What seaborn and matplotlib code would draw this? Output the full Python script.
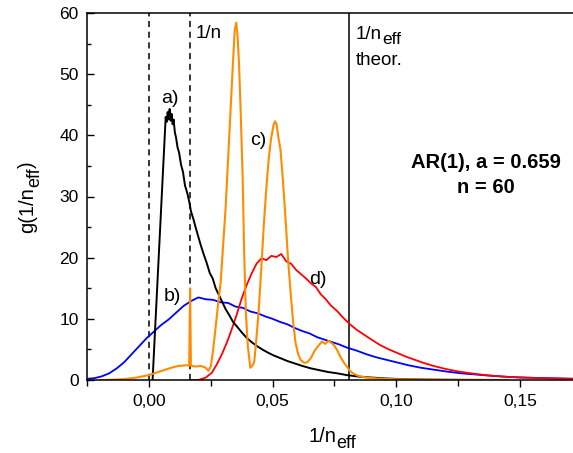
import matplotlib
matplotlib.use("Agg")
import matplotlib.pyplot as plt
import seaborn as sns
import pandas as pd

# ---- data ----
x_a = [0.0015, 0.0068, 0.0072, 0.0076, 0.0080, 0.0084, 0.0088, 0.0092, 0.0096, 0.0100, 0.0105, 0.0110,
       0.0116, 0.0122, 0.0130, 0.0138, 0.0146, 0.0155, 0.0163, 0.0170, 0.0180, 0.0190, 0.0200, 0.0210,
       0.0222, 0.0234, 0.0246, 0.0258, 0.0270, 0.0283, 0.0296, 0.0310, 0.0325, 0.0340, 0.0357, 0.0375,
       0.0395, 0.0415, 0.0435, 0.0458, 0.0480, 0.0505, 0.0530, 0.0560, 0.0590, 0.0620, 0.0655, 0.0690,
       0.0725, 0.0760, 0.0800, 0.0850, 0.0900, 0.0960, 0.1020, 0.1100, 0.1200, 0.1300, 0.1450]
y_a = [0.0, 43.0, 42.2, 43.8, 42.6, 44.3, 42.4, 43.5, 41.8, 42.6, 40.5, 39.6,
       38.0, 37.2, 35.2, 34.0, 31.8, 30.6, 29.2, 27.6, 26.3, 24.8, 23.4, 22.0,
       20.5, 19.1, 17.5, 16.6, 15.0, 13.9, 12.8, 11.6, 10.6, 9.5, 8.7, 7.8,
       6.9, 6.2, 5.6, 5.0, 4.5, 4.0, 3.6, 3.1, 2.7, 2.3, 1.9, 1.6,
       1.3, 1.1, 0.8, 0.55, 0.4, 0.25, 0.15, 0.08, 0.04, 0.02, 0.0]

x_b = [-0.0250, -0.0220, -0.0190, -0.0160, -0.0130, -0.0100, -0.0070, -0.0040, -0.0010, 0.0020, 0.0050,
       0.0080, 0.0110, 0.0140, 0.0170, 0.0200, 0.0230, 0.0260, 0.0290, 0.0320, 0.0350, 0.0380, 0.0410,
       0.0440, 0.0470, 0.0500, 0.0530, 0.0560, 0.0590, 0.0620, 0.0650, 0.0680, 0.0710, 0.0740, 0.0770,
       0.0800, 0.0840, 0.0880, 0.0920, 0.0960, 0.1000, 0.1050, 0.1100, 0.1150, 0.1200, 0.1260, 0.1320,
       0.1380, 0.1450, 0.1520, 0.1600, 0.1715]
y_b = [0.2, 0.3, 0.6, 1.1, 1.9, 2.9, 4.2, 5.5, 6.8, 7.9, 9.0,
       9.9, 11.0, 12.1, 12.9, 13.5, 13.2, 13.1, 12.7, 12.6, 12.0, 11.8, 11.2,
       10.9, 10.4, 10.0, 9.5, 9.1, 8.5, 8.0, 7.6, 7.0, 6.6, 6.2, 5.8,
       5.3, 4.8, 4.2, 3.7, 3.3, 2.9, 2.4, 2.0, 1.7, 1.4, 1.1, 0.9,
       0.7, 0.5, 0.4, 0.3, 0.2]

x_c = [-0.0200, -0.0150, -0.0100, -0.0050, 0.0000, 0.0030, 0.0060, 0.0090, 0.0120, 0.0150, 0.0163,
       0.01667, 0.0170, 0.0190, 0.0210, 0.0230, 0.0240, 0.0250, 0.0260, 0.0270, 0.0280, 0.0290, 0.0300,
       0.0310, 0.0320, 0.0330, 0.0340, 0.0347, 0.0353, 0.0358, 0.0364, 0.0371, 0.0379, 0.0385, 0.0392,
       0.0400, 0.0410, 0.0418, 0.0426, 0.0435, 0.0444, 0.0454, 0.0464, 0.0474, 0.0484, 0.0494, 0.0504,
       0.0510, 0.0516, 0.0524, 0.0532, 0.0542, 0.0552, 0.0562, 0.0573, 0.0583, 0.0593, 0.0603, 0.0613,
       0.0628, 0.0640, 0.0655, 0.0670, 0.0685, 0.0700, 0.0712, 0.0726, 0.0740, 0.0750, 0.0762, 0.0774,
       0.0787, 0.0800, 0.0812, 0.0825, 0.0845, 0.0870, 0.0920, 0.1000, 0.1100, 0.1250, 0.1450]
y_c = [0.0, 0.05, 0.15, 0.4, 0.8, 1.2, 1.6, 2.0, 2.3, 2.4, 2.4,
       15.0, 2.3, 2.2, 2.3, 2.0, 1.5, 2.2, 5.0, 8.7, 12.5, 15.9, 22.0,
       28.0, 36.0, 44.0, 52.0, 57.2, 58.4, 56.5, 52.0, 44.0, 33.2, 21.0, 11.0,
       5.5, 2.0, 2.3, 3.0, 7.0, 11.4, 18.0, 25.0, 31.0, 36.0, 39.5, 41.7,
       42.3, 41.8, 39.5, 37.6, 32.5, 26.6, 20.0, 14.2, 9.5, 6.0, 4.3, 3.3,
       2.8, 2.9, 3.6, 4.8, 5.6, 6.3, 5.9, 6.4, 6.0, 5.6, 4.8, 3.8,
       2.9, 2.2, 1.5, 1.1, 0.7, 0.45, 0.25, 0.12, 0.06, 0.02, 0.0]

x_d = [0.0167, 0.0200, 0.0230, 0.0255, 0.0275, 0.0295, 0.0315, 0.0335, 0.0355, 0.0375, 0.0395,
       0.0415, 0.0435, 0.0455, 0.0475, 0.0495, 0.0515, 0.0535, 0.0555, 0.0575, 0.0595, 0.0615, 0.0635,
       0.0655, 0.0675, 0.0695, 0.0715, 0.0735, 0.0760, 0.0785, 0.0810, 0.0840, 0.0870, 0.0900, 0.0935,
       0.0970, 0.1005, 0.1040, 0.1075, 0.1110, 0.1150, 0.1200, 0.1250, 0.1300, 0.1360, 0.1420, 0.1500,
       0.1600, 0.1715]
y_d = [0.0, 0.0, 0.4, 1.2, 2.6, 4.2, 6.1, 8.3, 10.7, 13.3, 15.5,
       17.4, 19.0, 19.9, 19.6, 20.3, 20.1, 20.6, 19.4, 19.0, 18.0, 17.3, 16.6,
       15.8, 15.2, 14.0, 13.2, 12.2, 11.3, 10.2, 9.2, 8.2, 7.4, 6.6, 5.7,
       5.0, 4.4, 3.8, 3.3, 2.8, 2.3, 1.8, 1.4, 1.1, 0.8, 0.6, 0.4,
       0.3, 0.2]

x_dashed = [0.0, 1 / 60]
x_theor = 0.081
x_ticks = [0.0, 0.05, 0.10, 0.15]
x_ticklabels = ["0,00", "0,05", "0,10", "0,15"]
y_ticks = [0, 10, 20, 30, 40, 50, 60]

W, H = 573, 453

# ---- style ----
sns.set_style("ticks")
plt.rcParams["font.family"] = ["Liberation Sans", "DejaVu Sans"]
plt.rcParams["text.color"] = "black"
plt.rcParams["axes.labelcolor"] = "black"
plt.rcParams["xtick.color"] = "black"
plt.rcParams["ytick.color"] = "black"

fig = plt.figure(figsize=(W / 100, H / 100), dpi=100)
ax = fig.add_axes([87 / W, 1 - 380 / H, 1 - 87 / W, (380 - 13) / H])

df_b = pd.DataFrame({"x": x_b, "y": y_b})
df_d = pd.DataFrame({"x": x_d, "y": y_d})
df_a = pd.DataFrame({"x": x_a, "y": y_a})
df_c = pd.DataFrame({"x": x_c, "y": y_c})

sns.lineplot(data=df_b, x="x", y="y", ax=ax, color="#0000ff", lw=1.3, estimator=None, sort=False)
sns.lineplot(data=df_d, x="x", y="y", ax=ax, color="#ff0000", lw=1.3, estimator=None, sort=False)
sns.lineplot(data=df_a, x="x", y="y", ax=ax, color="#000000", lw=1.4, estimator=None, sort=False)
sns.lineplot(data=df_c, x="x", y="y", ax=ax, color="#ff8c00", lw=1.5, estimator=None, sort=False)

for xv in x_dashed:
    ax.axvline(xv, color="black", lw=1.1, ls=(0, (4, 3)), zorder=1)
ax.axvline(x_theor, color="black", lw=1.1, zorder=1)

ax.set_xlim(-0.0246, 0.1714)
ax.set_ylim(0, 60)
ax.set_xticks(x_ticks)
ax.set_xticklabels(x_ticklabels)
ax.set_yticks(y_ticks)
ax.set_xticks([-0.025, 0.025, 0.075, 0.125], minor=True)
ax.set_yticks([5, 15, 25, 35, 45, 55], minor=True)
ax.tick_params(axis="x", which="major", direction="out", length=5, width=1, labelsize=12.5, pad=5)
ax.tick_params(axis="x", which="minor", direction="out", length=4, width=1)
ax.tick_params(axis="y", which="major", direction="in", length=5, width=1, labelsize=12.5, pad=6)
ax.tick_params(axis="y", which="minor", direction="in", length=3, width=1)

for s in ["left", "bottom", "top"]:
    ax.spines[s].set_linewidth(1.1)
    ax.spines[s].set_color("black")
ax.spines["right"].set_visible(False)

ax.set_xlabel("")
ax.set_ylabel("")

fig.canvas.draw()
renderer = fig.canvas.get_renderer()


def composite(parts, x_px, y_px, rotation=0, **kw):
    """Draw text pieces one after another; parts = (text, size, baseline shift in px)."""
    cur = x_px if rotation == 0 else y_px
    for txt, size, dy in parts:
        if rotation == 0:
            t = fig.text(cur / W, 1 - (y_px + dy) / H, txt, fontsize=size, ha="left",
                         va="baseline", **kw)
            cur += t.get_window_extent(renderer).width
        else:
            t = fig.text((x_px + dy) / W, 1 - cur / H, txt, fontsize=size, ha="left",
                         va="baseline", rotation=90, rotation_mode="anchor", **kw)
            cur -= t.get_window_extent(renderer).height


# axis labels with large subscripts
composite([("1/n", 14.5, 0), ("eff", 13, 6)], 308, 442)
composite([("g(1/n", 14.5, 0), ("eff", 13, 6), (")", 14.5, 0)], 33, 233, rotation=90)

# annotations
ax.text(0.0188, 56.7, "1/n", fontsize=13.5, ha="left", va="center")
composite([("1/n", 13.5, 0), ("eff", 12.5, 5)], 356, 39)
composite([("theor.", 13.5, 0)], 356, 65)
ax.text(0.0085, 46.1, "a)", fontsize=14, ha="center", va="center")
ax.text(0.0093, 13.6, "b)", fontsize=14, ha="center", va="center")
ax.text(0.0444, 39.2, "c)", fontsize=14, ha="center", va="center")
ax.text(0.0685, 16.5, "d)", fontsize=14, ha="center", va="center")
ax.text(0.1363, 34.66, "AR(1), a = 0.659", fontsize=14.5, fontweight="bold",
        ha="center", va="baseline")
ax.text(0.1363, 30.57, "n = 60", fontsize=14.5, fontweight="bold",
        ha="center", va="baseline")

fig.savefig("out.png", dpi=100)
